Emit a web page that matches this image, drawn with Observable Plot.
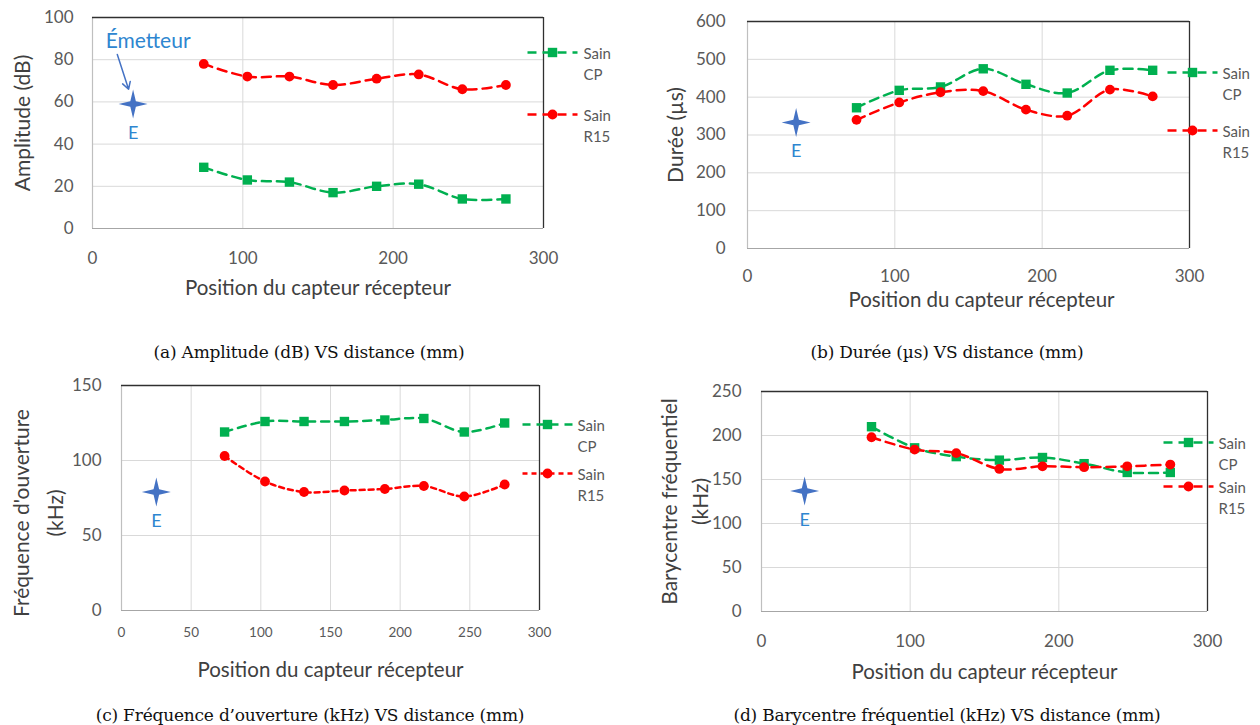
<!DOCTYPE html>
<html>
<head>
<meta charset="utf-8">
<script src="https://cdn.jsdelivr.net/npm/d3@7"></script>
<script src="https://cdn.jsdelivr.net/npm/@observablehq/plot@0.6"></script>
<style>
  html, body { margin: 0; padding: 0; background: #fff; }
  #root { position: relative; width: 1260px; height: 725px; overflow: hidden; font-family: Lato, sans-serif; }
  .panel { position: absolute; }
  .caption { position: absolute; width: 600px; text-align: center; font-family: "DejaVu Serif", serif; font-size: 17px; color: #111; line-height: 20px; white-space: nowrap; letter-spacing: -0.2px; }
</style>
</head>
<body>
<div id="root"></div>
<script>
// ---------------- data ----------------
const positions = [74, 103, 131, 160, 189, 217, 246, 275];
const seriesNames = ["Sain CP", "Sain R15"];

const ampCP  = [29, 23, 22, 17, 20, 21, 14, 14];
const ampR15 = [78, 72, 72, 68, 71, 73, 66, 68];

const dureeCP  = [372, 418, 427, 475, 434, 411, 471, 471];
const dureeR15 = [340, 386, 413, 416, 367, 351, 420, 402];

const freqCP  = [119, 126, 126, 126, 127, 128, 119, 125];
const freqR15 = [103, 86, 79, 80, 81, 83, 76, 84];

const baryCP  = [210, 186, 176, 172, 175, 168, 158, 158];
const baryR15 = [198, 184, 180, 162, 165, 164, 165, 167];

const emitterX = [27, 33, 25, 29];
const emitterY = [59, 333, 79, 137];

const xTicksMain = [0, 100, 200, 300];
const xTicksC = [0, 50, 100, 150, 200, 250, 300];
const yTicksA = [0, 20, 40, 60, 80, 100];
const yTicksB = [0, 100, 200, 300, 400, 500, 600];
const yTicksC = [0, 50, 100, 150];
const yTicksD = [0, 50, 100, 150, 200, 250];

const annotation = [{text: "Émetteur", x: 37, y: 88.5, ax: 16.5, ay: 82.5, bx: 24, by: 66}];

const xTitle = "Position du capteur récepteur";
const yTitles = ["Amplitude (dB)", "Durée (µs)", "Fréquence d'ouverture\n(kHz)", "Barycentre fréquentiel\n(kHz)"];
const captions = [
  "(a) Amplitude (dB) VS distance (mm)",
  "(b) Durée (µs) VS distance (mm)",
  "(c) Fréquence d’ouverture (kHz) VS distance (mm)",
  "(d) Barycentre fréquentiel (kHz) VS distance (mm)"
];

// ---------------- styles ----------------
const GREEN = "#00b050", RED = "#ff0000", BLUE = "#4472c4", LBLUE = "#2e86d0";
const TICK = "#595959", TITLE = "#404040";

const star4 = {
  draw(ctx, size) {
    const R = Math.sqrt(size / Math.PI), r = R * 0.27;
    for (let i = 0; i < 8; i++) {
      const a = i * Math.PI / 4 - Math.PI / 2;
      const rad = i % 2 ? r : R;
      const x = rad * Math.cos(a), y = rad * Math.sin(a);
      if (i) ctx.lineTo(x, y); else ctx.moveTo(x, y);
    }
    ctx.closePath();
  }
};
const hseg = (len) => ({ draw(ctx) { ctx.moveTo(-len / 2, 0); ctx.lineTo(len / 2, 0); } });

function rows(ys) { return positions.map((x, i) => ({x, y: ys[i]})); }

function panel(c) {
  const yMax = c.yTicks[c.yTicks.length - 1];
  const em = [{x: c.ex, y: c.ey}];
  const marks = [
    Plot.gridX(c.xTicks, {stroke: "#d9d9d9", strokeOpacity: 1, strokeWidth: 1}),
    Plot.gridY(c.yTicks, {stroke: "#d9d9d9", strokeOpacity: 1, strokeWidth: 1}),
    Plot.ruleY([0], {stroke: "#a6a6a6", strokeWidth: 1.2}),
    Plot.ruleX([0], {stroke: "#bfbfbf", strokeWidth: 1.2}),
    Plot.ruleY([yMax], {stroke: "#303030", strokeWidth: 1.3}),
    Plot.ruleX([300], {stroke: "#303030", strokeWidth: 1.3}),
    Plot.axisX(c.xTicks, {tickSize: 0, tickPadding: c.xPad, fontSize: c.xFont, fill: TICK, label: null}),
    Plot.axisY(c.yTicks, {tickSize: 0, tickPadding: c.yPad, fontSize: 17, fill: TICK, label: null}),
    // series
    Plot.line(rows(c.cp), {x: "x", y: "y", stroke: GREEN, strokeWidth: 2.5, strokeDasharray: c.dashCP, curve: "catmull-rom"}),
    Plot.line(rows(c.r15), {x: "x", y: "y", stroke: RED, strokeWidth: 2.5, strokeDasharray: c.dashR, curve: "catmull-rom"}),
    Plot.dot(rows(c.cp), {x: "x", y: "y", symbol: "square", fill: GREEN, r: 5.3}),
    Plot.dot(rows(c.r15), {x: "x", y: "y", symbol: "circle", fill: RED, r: 4.9}),
    // emitter
    Plot.dot(em, {x: "x", y: "y", symbol: star4, fill: BLUE, r: 14.5}),
    Plot.text(em, {x: "x", y: "y", text: () => "E", dy: 29, fill: LBLUE, fontSize: 18}),
    // axis titles
    Plot.text([xTitle], {frameAnchor: "bottom", dx: c.xtDx, dy: c.xtDy, fill: TITLE, fontSize: 20.5, textAnchor: "middle", lineAnchor: "middle"}),
    Plot.text([c.yTitle], {frameAnchor: "left", rotate: -90, dx: c.ytDx, dy: c.ytDy, fill: TITLE, fontSize: 21, textAnchor: "middle", lineAnchor: "middle", lineHeight: c.ytLH}),
  ];
  // legend
  const L = c.leg;
  [[GREEN, "square", 5.3, c.dashCP, L.gy, "Sain\nCP"], [RED, "circle", 4.9, c.dashR, L.ry, "Sain\nR15"]].forEach(([col, sym, r, dash, dy, label]) => {
    marks.push(Plot.dot([0], {frameAnchor: "top-right", dx: L.mdx, dy, symbol: hseg(50), stroke: col, strokeWidth: 2.5, strokeDasharray: dash, fill: "none"}));
    marks.push(Plot.dot([0], {frameAnchor: "top-right", dx: L.mdx, dy, symbol: sym, fill: col, r}));
    marks.push(Plot.text([label], {frameAnchor: "top-right", dx: L.tdx, dy: dy + 10.5, textAnchor: "start", lineAnchor: "middle", lineHeight: 21 / 15, fontSize: 15, fill: TICK}));
  });
  if (c.annot) {
    marks.push(Plot.arrow(c.annot, {x1: "ax", y1: "ay", x2: "bx", y2: "by", stroke: BLUE, strokeWidth: 1.5, headLength: 8}));
    marks.push(Plot.text(c.annot, {x: "x", y: "y", text: "text", fill: LBLUE, fontSize: 21}));
  }
  return Plot.plot({
    width: c.width, height: c.height,
    marginLeft: c.ml, marginRight: c.mr, marginTop: c.mt, marginBottom: c.mb,
    x: {domain: [0, 300]},
    y: {domain: [0, yMax]},
    style: {fontFamily: "Lato, sans-serif", background: "transparent", overflow: "visible"},
    marks
  });
}

const configs = [
  {left: 0, top: 0, width: 630, height: 305, ml: 92, mr: 87, mt: 17, mb: 77,
   xTicks: xTicksMain, yTicks: yTicksA, cp: ampCP, r15: ampR15, ex: emitterX[0], ey: emitterY[0],
   xPad: 23, xFont: 17, yPad: 19, yTitle: yTitles[0], ytDx: -69, ytDy: 0, ytLH: 1,
   xtDx: 0, xtDy: 60, dashCP: "9,6", dashR: "9,6",
   leg: {mdx: 9, tdx: 40, gy: 35, ry: 97}, annot: annotation},
  {left: 630, top: 0, width: 630, height: 305, ml: 117, mr: 71, mt: 21, mb: 57,
   xTicks: xTicksMain, yTicks: yTicksB, cp: dureeCP, r15: dureeR15, ex: emitterX[1], ey: emitterY[1],
   xPad: 21, xFont: 17, yPad: 22, yTitle: yTitles[1], ytDx: -71, ytDy: 0, ytLH: 1,
   xtDx: 13, xtDy: 52, dashCP: "9,6", dashR: "9,6",
   leg: {mdx: 3, tdx: 33, gy: 51, ry: 109}},
  {left: 0, top: 365, width: 630, height: 330, ml: 121, mr: 91, mt: 20, mb: 85,
   xTicks: xTicksC, yTicks: yTicksC, cp: freqCP, r15: freqR15, ex: emitterX[2], ey: emitterY[2],
   xPad: 17, xFont: 13.5, yPad: 20, yTitle: yTitles[2], ytDx: -86, ytDy: 15, ytLH: 1.6,
   xtDx: 0, xtDy: 60, dashCP: "8,6", dashR: "5,4",
   leg: {mdx: 8, tdx: 38, gy: 39, ry: 88}},
  {left: 630, top: 365, width: 630, height: 330, ml: 131, mr: 53, mt: 26, mb: 84,
   xTicks: xTicksMain, yTicks: yTicksD, cp: baryCP, r15: baryR15, ex: emitterX[3], ey: emitterY[3],
   xPad: 23, xFont: 17, yPad: 20, yTitle: yTitles[3], ytDx: -79, ytDy: 0, ytLH: 1.5,
   xtDx: 0, xtDy: 61, dashCP: "9,6", dashR: "9,6",
   leg: {mdx: -19, tdx: 11, gy: 51, ry: 95}}
];

const root = document.getElementById("root");
configs.forEach(c => {
  const div = document.createElement("div");
  div.className = "panel";
  div.style.left = c.left + "px";
  div.style.top = c.top + "px";
  div.appendChild(panel(c));
  root.appendChild(div);
});

const capPos = [[309, 352], [947, 352], [310, 715], [947, 715]];
captions.forEach((t, i) => {
  const d = document.createElement("div");
  d.className = "caption";
  d.textContent = t;
  d.style.left = (capPos[i][0] - 300) + "px";
  d.style.top = (capPos[i][1] - 10) + "px";
  root.appendChild(d);
});
</script>
</body>
</html>
